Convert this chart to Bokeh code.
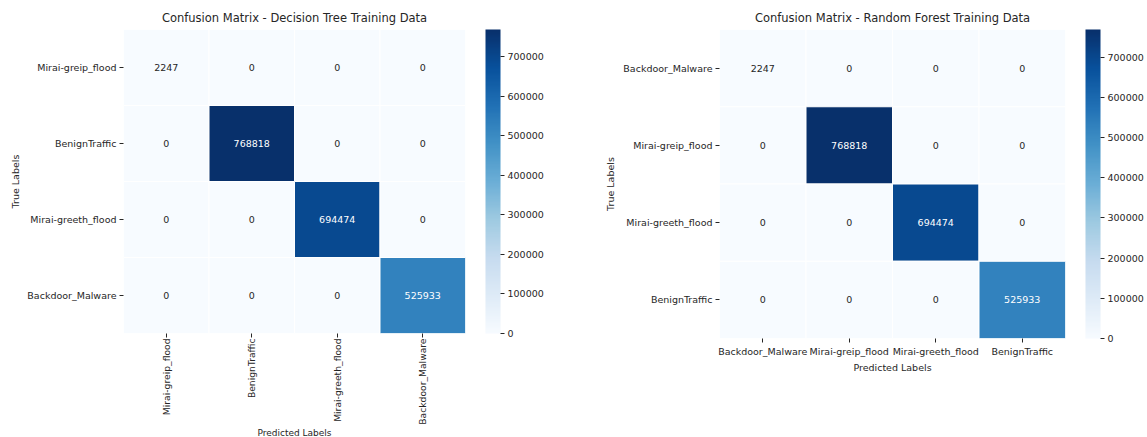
import math
from bokeh.plotting import figure
from bokeh.layouts import row
from bokeh.models import (ColumnDataSource, LinearColorMapper, ColorBar, FixedTicker,
                          BasicTickFormatter, FactorRange)
from bokeh.core.properties import value
from bokeh.embed import file_html
from bokeh.resources import INLINE
from bokeh.transform import transform

# Class order used by each model's confusion matrix
dt_labels = ["Mirai-greip_flood", "BenignTraffic", "Mirai-greeth_flood", "Backdoor_Malware"]
dt_matrix = [
    [2247, 0, 0, 0],
    [0, 768818, 0, 0],
    [0, 0, 694474, 0],
    [0, 0, 0, 525933],
]

rf_labels = ["Backdoor_Malware", "Mirai-greip_flood", "Mirai-greeth_flood", "BenignTraffic"]
rf_matrix = [
    [2247, 0, 0, 0],
    [0, 768818, 0, 0],
    [0, 0, 694474, 0],
    [0, 0, 0, 525933],
]

cbar_ticks = [0, 100000, 200000, 300000, 400000, 500000, 600000, 700000]

FONT = "DejaVu Sans"
INK = "#262626"

# "Blues" colour scale, interpolated to 256 steps
BLUES9 = ["#f7fbff", "#deebf7", "#c6dbef", "#9ecae1", "#6baed6",
          "#4292c6", "#2171b5", "#08519c", "#08306b"]


def _rgb(h):
    return [int(h[i:i + 2], 16) for i in (1, 3, 5)]


def build_palette(anchors, n=256):
    cols = [_rgb(c) for c in anchors]
    out = []
    for i in range(n):
        t = i / (n - 1) * (len(cols) - 1)
        k = min(int(t), len(cols) - 2)
        f = t - k
        c = [round(a + (b - a) * f) for a, b in zip(cols[k], cols[k + 1])]
        out.append("#%02x%02x%02x" % tuple(c))
    return out


PALETTE = build_palette(BLUES9)


def text_color_for(v, vmax):
    idx = min(int(v / vmax * len(PALETTE)), len(PALETTE) - 1)
    r, g, b = [x / 255 for x in _rgb(PALETTE[idx])]
    lin = [x / 12.92 if x <= 0.03928 else ((x + 0.055) / 1.055) ** 2.4 for x in (r, g, b)]
    lum = 0.2126 * lin[0] + 0.7152 * lin[1] + 0.0722 * lin[2]
    return INK if lum > 0.408 else "white"


def heatmap(title, labels, matrix, border_left, border_right, fw, fh, vertical_x, ylab_gap):
    vmax = max(max(r) for r in matrix)
    mapper = LinearColorMapper(palette=PALETTE, low=0, high=vmax)

    xs, ys, vs, ts, cs = [], [], [], [], []
    for i, true_lab in enumerate(labels):
        for j, pred_lab in enumerate(labels):
            v = matrix[i][j]
            xs.append(pred_lab)
            ys.append(true_lab)
            vs.append(v)
            ts.append(str(v))
            cs.append(text_color_for(v, vmax))
    src = ColumnDataSource(dict(x=xs, y=ys, v=vs, t=ts, c=cs))

    p = figure(x_range=FactorRange(*labels), y_range=FactorRange(*labels[::-1]),
               frame_width=fw, frame_height=fh, title=title,
               min_border_left=border_left, min_border_right=border_right,
               min_border_top=29, min_border_bottom=0,
               output_backend="svg", toolbar_location=None)

    p.rect(x="x", y="y", width=1, height=1, source=src,
           fill_color=transform("v", mapper), line_color="white", line_width=1)
    p.text(x="x", y="y", text="t", source=src, text_color="c",
           text_align="center", text_baseline="middle",
           text_font=value(FONT), text_font_size="9.5px")

    p.title.text_font = FONT
    p.title.text_font_size = "11.5px"
    p.title.text_font_style = "normal"
    p.title.text_color = INK
    p.title.align = "center"

    p.xgrid.grid_line_color = None
    p.ygrid.grid_line_color = None
    p.outline_line_color = None

    p.xaxis.axis_label = "Predicted Labels"
    p.yaxis.axis_label = "True Labels"
    for ax in (p.xaxis[0], p.yaxis[0]):
        ax.axis_line_color = None
        ax.major_tick_in = 0
        ax.major_tick_out = 4
        ax.major_tick_line_color = INK
        ax.major_label_text_font = FONT
        ax.major_label_text_font_size = "9.5px"
        ax.major_label_text_color = INK
        ax.major_label_standoff = 3
        ax.axis_label_text_font = FONT
        ax.axis_label_text_font_size = "9.5px"
        ax.axis_label_text_font_style = "normal"
        ax.axis_label_text_color = INK
    p.yaxis.axis_label_standoff = ylab_gap
    if vertical_x:
        p.xaxis.major_label_orientation = math.pi / 2
        p.xaxis.major_label_text_font_size = "9.2px"
        p.xaxis.major_label_standoff = 1
        p.xaxis.axis_label_standoff = 0
        p.xaxis.axis_label_text_font_size = "9px"
    else:
        p.xaxis.axis_label_standoff = 2

    cb = ColorBar(color_mapper=mapper, ticker=FixedTicker(ticks=cbar_ticks),
                  formatter=BasicTickFormatter(use_scientific=False),
                  width=15, height=fh, margin=0, padding=0,
                  location=(20, 0),
                  major_tick_in=0, major_tick_out=4, major_tick_line_color=INK,
                  major_label_text_font=FONT, major_label_text_font_size="9.5px",
                  major_label_text_color=INK, label_standoff=3,
                  bar_line_color=None, border_line_color=None,
                  background_fill_alpha=0)
    p.add_layout(cb, "right")
    return p


p1 = heatmap("Confusion Matrix - Decision Tree Training Data", dt_labels, dt_matrix,
             border_left=123, border_right=115, fw=342, fh=304, vertical_x=True, ylab_gap=3)
p2 = heatmap("Confusion Matrix - Random Forest Training Data", rf_labels, rf_matrix,
             border_left=139, border_right=80, fw=346, fh=309, vertical_x=False, ylab_gap=4)

layout = row(p1, p2)
open("out.html", "w").write(file_html(layout, INLINE))
